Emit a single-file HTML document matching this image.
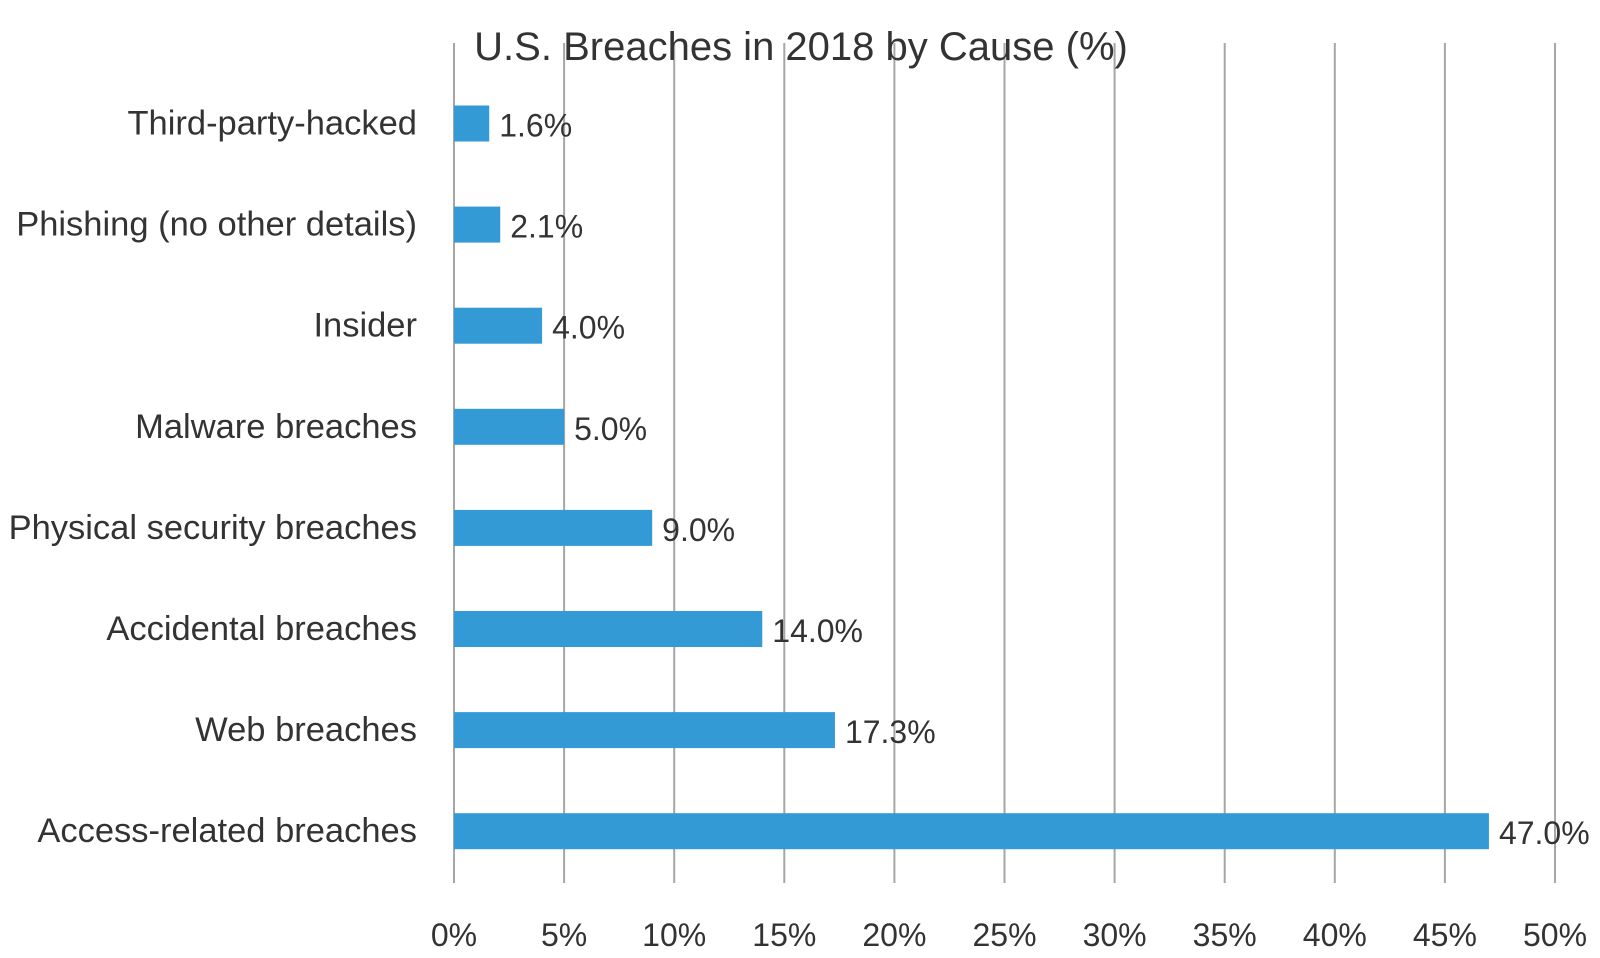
<!DOCTYPE html>
<html><head><meta charset="utf-8"><style>
html,body{margin:0;padding:0;background:#fff;}
svg{display:block;font-family:"Liberation Sans",sans-serif;}
</style></head><body>
<svg id="chart" width="1600" height="958" viewBox="0 0 1600 958" xmlns="http://www.w3.org/2000/svg">
<g id="grid"></g><g id="bars"></g><g id="labels"></g>
<text x="801" y="60" font-size="40" fill="#333" text-anchor="middle">U.S. Breaches in 2018 by Cause (%)</text>
</svg>
<script>
const categories = ["Third-party-hacked","Phishing (no other details)","Insider","Malware breaches","Physical security breaches","Accidental breaches","Web breaches","Access-related breaches"];
const values = [1.6,2.1,4.0,5.0,9.0,14.0,17.3,47.0];
const ticks = [0,5,10,15,20,25,30,35,40,45,50];
const NS="http://www.w3.org/2000/svg";
const x0=454,x1=1555,xMax=50;
const xs=v=>x0+(v/xMax)*(x1-x0);
const yTop=123.5,yStep=101.1;
const ys=i=>yTop+i*yStep;
const grid=document.getElementById('grid'),bars=document.getElementById('bars'),labels=document.getElementById('labels');
function mk(tag,attrs,parent,text){const e=document.createElementNS(NS,tag);for(const k in attrs)e.setAttribute(k,attrs[k]);if(text!==undefined)e.textContent=text;parent.appendChild(e);return e;}
ticks.forEach(t=>{
  const l=mk('line',{x1:xs(t),x2:xs(t),y1:43,y2:883,stroke:'#a6a6a6','stroke-width':2},grid);
  
  
  const tx=mk('text',{x:xs(t),y:946,'font-size':32,fill:'#333','text-anchor':'middle'},labels,t+'%');
  
  
});
categories.forEach((c,i)=>{
  const y=ys(i);
  const r=mk('rect',{x:x0,y:y-18,width:xs(values[i])-x0,height:36,fill:'#349ad6'},bars);
  
  
  const cl=mk('text',{x:417,y:y+11,'font-size':34.5,fill:'#333','text-anchor':'end'},labels,c);
  
  
  const vl=mk('text',{x:xs(values[i])+10,y:y+13,'font-size':32,fill:'#333'},labels,values[i].toFixed(1)+'%');
  
  
});
</script>
</body></html>
